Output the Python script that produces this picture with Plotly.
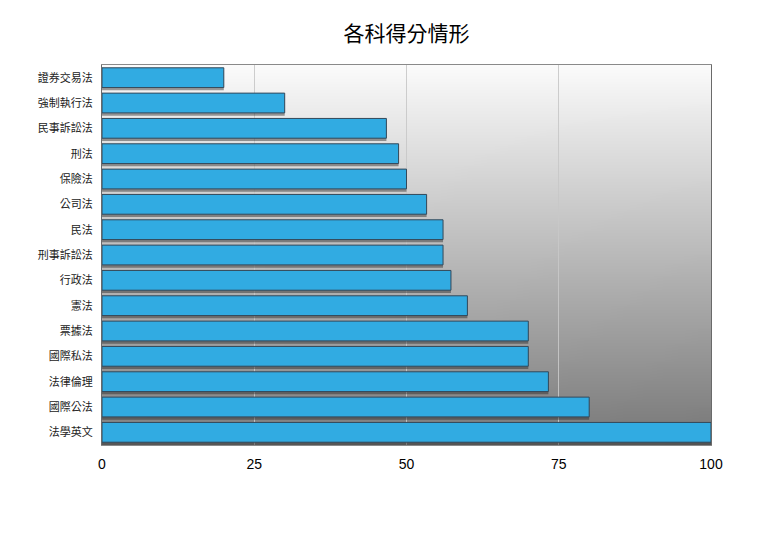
import base64
import struct
import zlib

import plotly.graph_objects as go

subjects = [
    "證券交易法",
    "強制執行法",
    "民事訴訟法",
    "刑法",
    "保險法",
    "公司法",
    "民法",
    "刑事訴訟法",
    "行政法",
    "憲法",
    "票據法",
    "國際私法",
    "法律倫理",
    "國際公法",
    "法學英文",
]
scores = [20, 30, 46.7, 48.7, 50, 53.3, 56, 56, 57.3, 60, 70, 70, 73.3, 80, 100]
x_ticks = [0, 25, 50, 75, 100]


def png_chunk(tag, data):
    return (
        struct.pack(">I", len(data))
        + tag
        + data
        + struct.pack(">I", zlib.crc32(tag + data) & 0xFFFFFFFF)
    )


# grey backdrop of the plot area: white at the top, dark grey at the bottom
def backdrop_png(w=32, h=128):
    raw = b""
    for j in range(h):
        f = j / (h - 1)
        raw += b"\x00"
        for i in range(w):
            g = i / (w - 1)
            v = int(round(251 - 124 * f - 8 * g * f))
            raw += bytes([v, v, v])
    png = b"\x89PNG\r\n\x1a\n"
    png += png_chunk(b"IHDR", struct.pack(">IIBBBBB", w, h, 8, 2, 0, 0, 0))
    png += png_chunk(b"IDAT", zlib.compress(raw, 9))
    png += png_chunk(b"IEND", b"")
    return "data:image/png;base64," + base64.b64encode(png).decode()


fig = go.Figure()

# soft shadow under each bar
fig.add_trace(
    go.Bar(
        x=scores,
        y=subjects,
        orientation="h",
        width=0.78,
        offset=-0.28,
        marker=dict(color="rgba(40,40,40,0.45)", line=dict(width=0)),
        hoverinfo="skip",
        showlegend=False,
    )
)
fig.add_trace(
    go.Bar(
        x=scores,
        y=subjects,
        orientation="h",
        width=0.78,
        offset=-0.39,
        marker=dict(color="#31abe2", line=dict(color="#34495a", width=1)),
        showlegend=False,
    )
)

fig.update_layout(
    width=760,
    height=538,
    barmode="overlay",
    paper_bgcolor="white",
    plot_bgcolor="rgba(0,0,0,0)",
    margin=dict(l=94, r=57, t=57, b=101),
    title=dict(
        text="各科得分情形",
        x=0.5,
        xref="paper",
        xanchor="center",
        y=1 - 26 / 538,
        yref="container",
        yanchor="middle",
        font=dict(family="Noto Sans CJK TC", size=21, color="black"),
    ),
    images=[
        dict(
            source=backdrop_png(),
            xref="paper",
            yref="paper",
            x=0,
            y=1,
            sizex=1,
            sizey=1,
            xanchor="left",
            yanchor="top",
            sizing="stretch",
            layer="below",
        )
    ],
)

fig.update_xaxes(
    range=[0, 100],
    tickvals=x_ticks,
    ticktext=[str(t) for t in x_ticks],
    tickfont=dict(family="Liberation Sans", size=14, color="black"),
    ticks="",
    ticklabelstandoff=6,
    showgrid=True,
    gridcolor="rgba(200,200,200,0.9)",
    gridwidth=1,
    zeroline=False,
    showline=True,
    mirror=True,
    linecolor="#8a8a8a",
    linewidth=1,
)
fig.update_yaxes(
    categoryorder="array",
    categoryarray=subjects,
    autorange="reversed",
    tickfont=dict(family="Noto Sans CJK TC", size=11, color="#222222"),
    ticks="",
    ticklabelstandoff=6,
    showgrid=False,
    showline=True,
    mirror=True,
    linecolor="#6a6a6a",
    linewidth=1,
)

fig.write_html("out.html")
